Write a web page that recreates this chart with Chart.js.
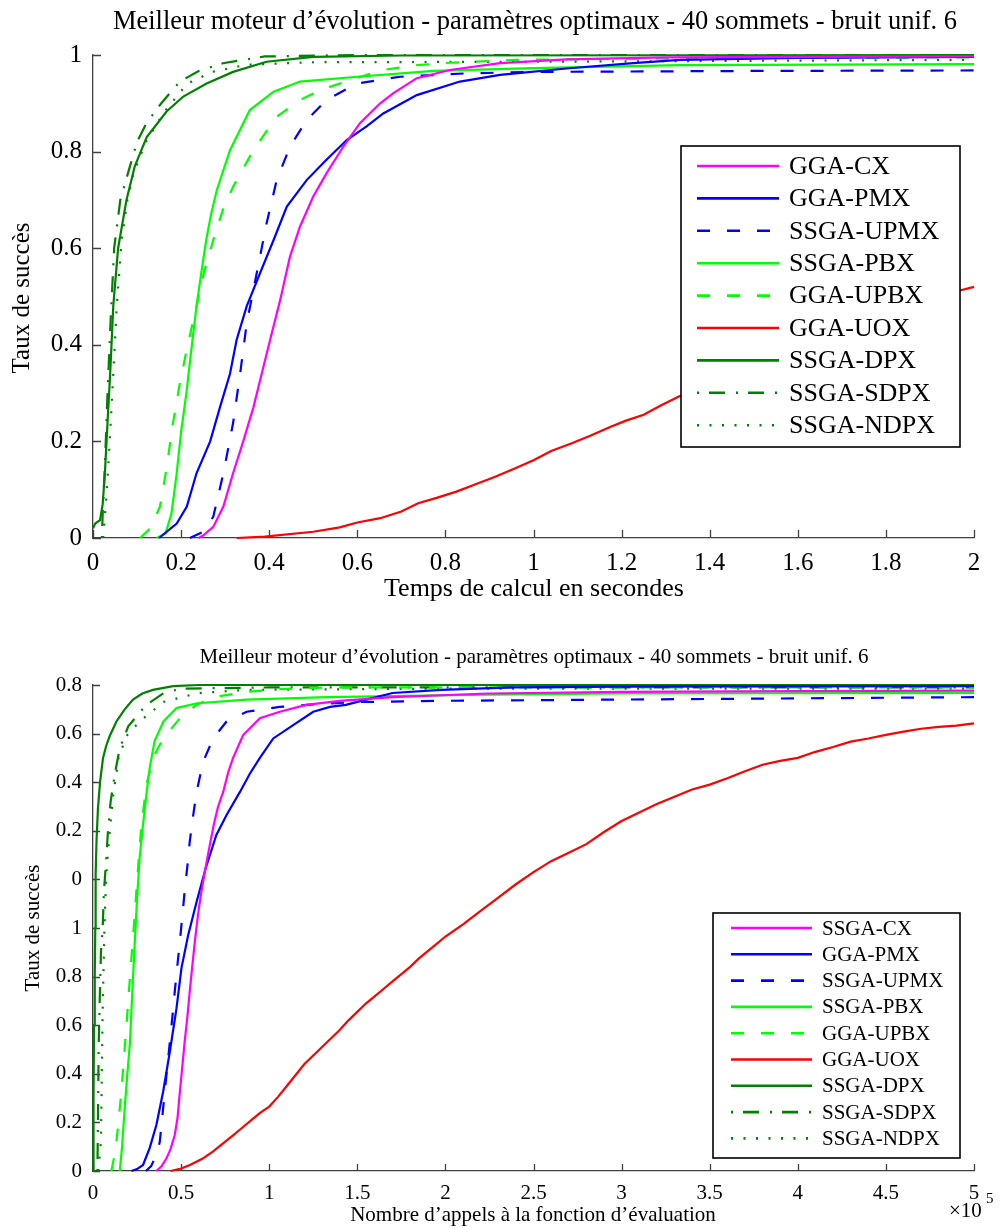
<!DOCTYPE html>
<html>
<head>
<meta charset="utf-8">
<title>Meilleur moteur d'évolution</title>
<script src="https://cdn.jsdelivr.net/npm/chart.js@4.4.1/dist/chart.umd.min.js"></script>
<style>
  html, body { margin: 0; padding: 0; background: #fff; }
  #wrap { position: relative; width: 1000px; height: 1228px; }
  canvas { position: absolute; left: 0; }
  #timeChart { top: 0; }
  #evalChart { top: 614px; }
</style>
</head>
<body>
<div id="wrap">
  <canvas id="timeChart" width="1000" height="614"></canvas>
  <canvas id="evalChart" width="1000" height="614"></canvas>
</div>
<script>
/* --------------------------------------------------------------------------
   Success rate curves: time based (top) and evaluation based (bottom)
   -------------------------------------------------------------------------- */

// --- Labels ---
const topNames = ['GGA-CX', 'GGA-PMX', 'SSGA-UPMX', 'SSGA-PBX', 'GGA-UPBX', 'GGA-UOX', 'SSGA-DPX', 'SSGA-SDPX', 'SSGA-NDPX'];
const bottomNames = ['SSGA-CX', 'GGA-PMX', 'SSGA-UPMX', 'SSGA-PBX', 'GGA-UPBX', 'GGA-UOX', 'SSGA-DPX', 'SSGA-SDPX', 'SSGA-NDPX'];

const timeTicks = ['0', '0.2', '0.4', '0.6', '0.8', '1', '1.2', '1.4', '1.6', '1.8', '2'];
const topRateTicks = ['0', '0.2', '0.4', '0.6', '0.8', '1'];
const evalTicks = ['0', '0.5', '1', '1.5', '2', '2.5', '3', '3.5', '4', '4.5', '5'];
const bottomRateTicks = ['0', '0.2', '0.4', '0.6', '0.8', '1', '0', '0.2', '0.4', '0.6', '0.8'];

// --- Top chart: [seconds, success rate] ---
const topGgaCx = [[0.24,0],[0.25,0.005],[0.273,0.023],[0.296,0.065],[0.318,0.134],[0.341,0.2],[0.364,0.27],[0.383,0.34],[0.402,0.41],[0.425,0.493],[0.447,0.582],[0.47,0.645],[0.5,0.707],[0.53,0.755],[0.568,0.81],[0.606,0.859],[0.652,0.9],[0.682,0.921],[0.735,0.952],[0.81,0.969],[0.924,0.983],[1.075,0.991],[1.3,0.995],[1.6,0.996],[2,0.997]];
const topGgaPmx = [[0.15,0],[0.19,0.03],[0.213,0.065],[0.235,0.134],[0.266,0.2],[0.288,0.27],[0.311,0.34],[0.326,0.41],[0.349,0.48],[0.379,0.548],[0.41,0.617],[0.44,0.686],[0.485,0.741],[0.53,0.783],[0.576,0.824],[0.621,0.852],[0.659,0.879],[0.735,0.917],[0.833,0.945],[0.924,0.959],[1.075,0.972],[1.226,0.983],[1.333,0.99],[1.6,0.994],[2,0.996]];
const topSsgaUpmx = [[0.22,0],[0.25,0.013],[0.273,0.044],[0.296,0.134],[0.318,0.238],[0.334,0.34],[0.349,0.445],[0.364,0.513],[0.379,0.582],[0.394,0.651],[0.417,0.741],[0.447,0.81],[0.485,0.865],[0.53,0.907],[0.599,0.941],[0.697,0.955],[0.848,0.962],[1.0,0.965],[1.5,0.967],[2,0.968]];
const topSsgaPbx = [[0.145,0],[0.165,0.01],[0.178,0.05],[0.19,0.134],[0.2,0.22],[0.212,0.3],[0.222,0.38],[0.235,0.48],[0.246,0.55],[0.257,0.617],[0.268,0.67],[0.281,0.72],[0.311,0.803],[0.356,0.886],[0.41,0.924],[0.47,0.945],[0.6,0.955],[0.773,0.967],[1.0,0.973],[1.333,0.979],[2,0.981]];
const topGgaUpbx = [[0.107,0],[0.13,0.02],[0.152,0.065],[0.168,0.15],[0.18,0.23],[0.197,0.32],[0.215,0.4],[0.235,0.48],[0.252,0.55],[0.273,0.617],[0.295,0.68],[0.318,0.727],[0.364,0.803],[0.417,0.872],[0.47,0.907],[0.515,0.927],[0.583,0.948],[0.658,0.969],[0.735,0.979],[0.81,0.984],[0.96,0.99],[1.5,0.994],[2,0.995]];
const topGgaUox = [[0.326,0],[0.39,0.003],[0.5,0.013],[0.56,0.022],[0.6,0.032],[0.652,0.041],[0.7,0.055],[0.738,0.072],[0.78,0.083],[0.825,0.096],[0.87,0.112],[0.913,0.127],[0.96,0.145],[1.0,0.161],[1.04,0.18],[1.087,0.196],[1.13,0.212],[1.174,0.23],[1.21,0.243],[1.25,0.255],[1.29,0.275],[1.33,0.293],[1.4,0.32],[1.5,0.355],[1.6,0.39],[1.7,0.43],[1.8,0.465],[1.9,0.495],[1.97,0.513],[2,0.52]];
const topSsgaDpx = [[0,0.02],[0.005,0.03],[0.016,0.037],[0.022,0.07],[0.027,0.134],[0.033,0.24],[0.039,0.34],[0.046,0.48],[0.057,0.6],[0.076,0.7],[0.095,0.77],[0.122,0.83],[0.167,0.883],[0.205,0.914],[0.258,0.941],[0.318,0.965],[0.394,0.986],[0.5,0.996],[0.7,0.999],[2,1.0]];
const topSsgaSdpx = [[0.02,0],[0.022,0.05],[0.027,0.15],[0.033,0.3],[0.04,0.45],[0.048,0.6],[0.062,0.7],[0.084,0.77],[0.1,0.82],[0.122,0.86],[0.155,0.9],[0.197,0.945],[0.24,0.967],[0.295,0.983],[0.39,0.997],[0.6,1.0],[2,1.0]];
const topSsgaNdpx = [[0.023,0],[0.03,0.08],[0.036,0.17],[0.042,0.27],[0.054,0.48],[0.065,0.617],[0.078,0.7],[0.092,0.755],[0.12,0.82],[0.16,0.88],[0.213,0.94],[0.27,0.965],[0.35,0.98],[0.5,0.985],[1.0,0.986],[1.5,0.988],[2,0.99]];

// --- Bottom chart: [evaluations x 1e5, axis position] ---
const botSsgaCx = [[0.36,0],[0.39,0.02],[0.417,0.052],[0.44,0.09],[0.464,0.148],[0.48,0.22],[0.493,0.326],[0.507,0.43],[0.52,0.53],[0.535,0.63],[0.549,0.738],[0.563,0.84],[0.578,0.944],[0.595,1.05],[0.615,1.15],[0.632,1.22],[0.652,1.3],[0.668,1.36],[0.685,1.424],[0.71,1.5],[0.739,1.56],[0.767,1.64],[0.795,1.7],[0.852,1.794],[0.947,1.863],[1.06,1.89],[1.21,1.918],[1.4,1.935],[1.7,1.95],[2.24,1.965],[3,1.972],[4,1.975],[5,1.977]];
const botGgaPmx = [[0.218,0],[0.25,0.008],[0.284,0.025],[0.322,0.095],[0.36,0.19],[0.398,0.326],[0.436,0.49],[0.474,0.67],[0.502,0.835],[0.54,0.97],[0.588,1.108],[0.64,1.247],[0.70,1.383],[0.758,1.465],[0.834,1.56],[0.89,1.635],[0.947,1.7],[1.023,1.78],[1.136,1.835],[1.25,1.89],[1.345,1.91],[1.435,1.918],[1.55,1.94],[1.7,1.967],[1.976,1.98],[2.38,1.99],[3,1.993],[5,1.995]];
const botSsgaUpmx = [[0.3,0],[0.33,0.02],[0.35,0.052],[0.365,0.08],[0.379,0.12],[0.393,0.22],[0.407,0.326],[0.422,0.43],[0.436,0.53],[0.45,0.63],[0.464,0.738],[0.478,0.84],[0.493,0.944],[0.507,1.05],[0.52,1.15],[0.535,1.25],[0.549,1.355],[0.568,1.46],[0.588,1.56],[0.625,1.684],[0.682,1.78],[0.758,1.85],[0.872,1.89],[1.06,1.91],[1.25,1.92],[1.5,1.93],[2,1.935],[3,1.94],[4,1.945],[5,1.95]];
const botSsgaPbx = [[0.152,0],[0.165,0.1],[0.18,0.26],[0.195,0.4],[0.21,0.53],[0.222,0.72],[0.237,0.94],[0.25,1.12],[0.265,1.29],[0.28,1.4],[0.294,1.49],[0.308,1.58],[0.322,1.66],[0.35,1.77],[0.4,1.85],[0.474,1.905],[0.59,1.925],[0.87,1.94],[1.33,1.95],[2.24,1.96],[3,1.965],[5,1.968]];
const botGgaUpbx = [[0.104,0],[0.118,0.05],[0.133,0.12],[0.147,0.22],[0.161,0.326],[0.175,0.46],[0.19,0.6],[0.204,0.74],[0.218,0.876],[0.232,1.01],[0.246,1.15],[0.26,1.29],[0.275,1.424],[0.303,1.588],[0.341,1.7],[0.398,1.78],[0.493,1.863],[0.588,1.918],[0.682,1.95],[0.872,1.972],[1.06,1.983],[1.345,1.99],[5,1.99]];
const botGgaUox = [[0.44,0],[0.5,0.01],[0.55,0.025],[0.62,0.05],[0.68,0.08],[0.74,0.115],[0.8,0.15],[0.85,0.18],[0.9,0.21],[0.95,0.24],[1.0,0.265],[1.05,0.305],[1.1,0.35],[1.15,0.395],[1.2,0.44],[1.25,0.475],[1.3,0.51],[1.35,0.545],[1.4,0.58],[1.45,0.62],[1.5,0.655],[1.55,0.69],[1.6,0.72],[1.65,0.75],[1.7,0.78],[1.75,0.81],[1.8,0.84],[1.85,0.875],[1.9,0.905],[1.95,0.935],[2.0,0.965],[2.1,1.015],[2.2,1.07],[2.3,1.125],[2.4,1.18],[2.5,1.23],[2.6,1.275],[2.7,1.31],[2.8,1.345],[2.9,1.395],[3.0,1.44],[3.1,1.475],[3.2,1.51],[3.3,1.54],[3.4,1.57],[3.5,1.59],[3.6,1.616],[3.7,1.645],[3.8,1.672],[3.9,1.688],[4.0,1.7],[4.1,1.725],[4.2,1.745],[4.3,1.767],[4.4,1.78],[4.5,1.795],[4.6,1.808],[4.7,1.82],[4.8,1.828],[4.9,1.833],[5.0,1.842]];
const botSsgaDpx = [[0,0],[0.003,0.3],[0.006,0.6],[0.01,0.807],[0.013,1.0],[0.015,1.22],[0.02,1.36],[0.028,1.49],[0.04,1.6],[0.057,1.7],[0.075,1.75],[0.095,1.79],[0.133,1.85],[0.18,1.9],[0.227,1.94],[0.28,1.965],[0.34,1.98],[0.455,1.995],[0.6,2.0],[5,2.0]];
const botSsgaSdpx = [[0.025,0],[0.028,0.2],[0.032,0.5],[0.038,0.7],[0.045,0.9],[0.055,1.0],[0.062,1.15],[0.072,1.25],[0.085,1.4],[0.1,1.52],[0.123,1.63],[0.152,1.74],[0.2,1.83],[0.3,1.917],[0.4,1.966],[0.5,1.985],[1,1.99],[5,1.99]];
const botSsgaNdpx = [[0.03,0],[0.045,0.12],[0.05,0.4],[0.055,0.67],[0.062,0.9],[0.068,1.08],[0.078,1.25],[0.095,1.4],[0.115,1.55],[0.145,1.7],[0.19,1.79],[0.265,1.85],[0.4,1.93],[0.59,1.966],[0.87,1.98],[2,1.985],[5,1.985]];

// --- Styles ---
const SERIF = '"Liberation Serif", "Times New Roman", serif';
const AXIS = '#404040';
const MAGENTA = '#ff00ff', BLUE = '#0000ff', LIME = '#00ff00', RED = '#ff0000', DKGREEN = '#008000';
const DASH = [13, 17], DASHDOT = [2, 10, 16, 11], DOT = [2, 10.5];
const lineColors = [MAGENTA, BLUE, BLUE, LIME, LIME, RED, DKGREEN, DKGREEN, DKGREEN];
const lineDashes = [[], [], DASH, [], DASH, [], [], DASHDOT, DOT];

function buildDatasets(names, series) {
    return series.map((pts, i) => ({
        label: names[i],
        data: pts.map(([x, y]) => ({ x, y })),
        borderColor: lineColors[i],
        borderDash: lineDashes[i],
        borderWidth: 2.2,
        pointRadius: 0,
        tension: 0,
        fill: false,
        showLine: true,
        clip: 4
    }));
}

// Inward tick marks and free text (titles, axis names)
const decorPlugin = {
    id: 'decor',
    beforeDatasetsDraw(chart, args, opts) {
        const ctx = chart.ctx;
        const { x, y } = chart.scales;
        ctx.save();
        ctx.strokeStyle = AXIS;
        ctx.lineWidth = 1.3;
        ctx.beginPath();
        x.ticks.forEach(t => {
            const px = Math.round(x.getPixelForValue(t.value)) + 0.5;
            ctx.moveTo(px, y.bottom);
            ctx.lineTo(px, y.bottom - opts.tickLen);
        });
        y.ticks.forEach(t => {
            const py = Math.round(y.getPixelForValue(t.value)) + 0.5;
            ctx.moveTo(x.left, py);
            ctx.lineTo(x.left + opts.tickLen, py);
        });
        ctx.stroke();
        ctx.restore();
    },
    afterDraw(chart, args, opts) {
        const ctx = chart.ctx;
        ctx.save();
        ctx.fillStyle = '#000';
        ctx.textBaseline = 'middle';
        (opts.texts || []).forEach(t => {
            ctx.save();
            ctx.font = t.font;
            ctx.textAlign = t.align || 'center';
            ctx.translate(t.x, t.y);
            if (t.rotate) ctx.rotate(t.rotate);
            ctx.fillText(t.text, 0, 0);
            ctx.restore();
        });
        ctx.restore();
    }
};

// Boxed legend placed inside the plot area
const boxLegendPlugin = {
    id: 'boxLegend',
    afterDraw(chart, args, o) {
        const ctx = chart.ctx;
        ctx.save();
        ctx.fillStyle = '#fff';
        ctx.fillRect(o.left, o.top, o.width, o.height);
        ctx.strokeStyle = '#000';
        ctx.lineWidth = 1.6;
        ctx.strokeRect(o.left, o.top, o.width, o.height);
        ctx.font = o.font;
        ctx.textBaseline = 'middle';
        ctx.textAlign = 'left';
        chart.data.datasets.forEach((ds, i) => {
            const cy = o.firstRow + i * o.rowHeight;
            ctx.strokeStyle = ds.borderColor;
            ctx.lineWidth = 2.6;
            ctx.setLineDash(ds.borderDash);
            ctx.beginPath();
            ctx.moveTo(o.lineX0, cy);
            ctx.lineTo(o.lineX1, cy);
            ctx.stroke();
            ctx.setLineDash([]);
            ctx.fillStyle = '#000';
            ctx.fillText(ds.label, o.textX, cy + 1);
        });
        ctx.restore();
    }
};

function axisOptions(min, max, step, labels, fontSize, pad, fit) {
    return {
        type: 'linear',
        min, max,
        ticks: {
            stepSize: step,
            autoSkip: false,
            maxRotation: 0,
            padding: pad,
            color: '#000',
            font: { family: SERIF, size: fontSize },
            callback: (v, i) => labels[i]
        },
        grid: { display: false },
        border: { display: true, color: AXIS, width: 1.3 },
        afterFit: fit
    };
}

const TITLE = 'Meilleur moteur d\u2019\u00e9volution - param\u00e8tres optimaux - 40 sommets - bruit unif. 6';

// 1. Time based success rate
new Chart(document.getElementById('timeChart'), {
    type: 'scatter',
    data: {
        datasets: buildDatasets(topNames, [topGgaCx, topGgaPmx, topSsgaUpmx, topSsgaPbx, topGgaUpbx, topGgaUox, topSsgaDpx, topSsgaSdpx, topSsgaNdpx])
    },
    options: {
        responsive: false,
        animation: false,
        devicePixelRatio: 1,
        layout: { padding: { left: 0, right: 26, top: 55, bottom: 0 } },
        plugins: {
            legend: { display: false },
            tooltip: { enabled: false },
            decor: {
                tickLen: 8,
                texts: [
                    { text: TITLE, x: 535, y: 22, font: `26.5px ${SERIF}` },
                    { text: 'Temps de calcul en secondes', x: 534, y: 589, font: `26px ${SERIF}` },
                    { text: 'Taux de succ\u00e8s', x: 22, y: 298, font: `25px ${SERIF}`, rotate: -Math.PI / 2 }
                ]
            },
            boxLegend: {
                left: 681, top: 146, width: 279, height: 301,
                firstRow: 166, rowHeight: 32.4,
                lineX0: 697, lineX1: 779, textX: 789,
                font: `26px ${SERIF}`
            }
        },
        scales: {
            x: axisOptions(0, 2, 0.2, timeTicks, 25, 2, s => { s.height = 614 - 538; }),
            y: axisOptions(0, 1, 0.2, topRateTicks, 25, 3, s => { s.width = 93; })
        }
    },
    plugins: [decorPlugin, boxLegendPlugin]
});

// 2. Evaluation count based success rate
new Chart(document.getElementById('evalChart'), {
    type: 'scatter',
    data: {
        datasets: buildDatasets(bottomNames, [botSsgaCx, botGgaPmx, botSsgaUpmx, botSsgaPbx, botGgaUpbx, botGgaUox, botSsgaDpx, botSsgaSdpx, botSsgaNdpx])
    },
    options: {
        responsive: false,
        animation: false,
        devicePixelRatio: 1,
        layout: { padding: { left: 0, right: 26, top: 71, bottom: 0 } },
        plugins: {
            legend: { display: false },
            tooltip: { enabled: false },
            decor: {
                tickLen: 7,
                texts: [
                    { text: TITLE, x: 534, y: 43, font: `21px ${SERIF}` },
                    { text: 'Nombre d\u2019appels \u00e0 la fonction d\u2019\u00e9valuation', x: 533, y: 601, font: `21px ${SERIF}` },
                    { text: 'Taux de succ\u00e8s', x: 33, y: 314, font: `21px ${SERIF}`, rotate: -Math.PI / 2 },
                    { text: '\u00d710', x: 949, y: 597, font: `21px ${SERIF}`, align: 'left' },
                    { text: '5', x: 986, y: 585, font: `15px ${SERIF}`, align: 'left' }
                ]
            },
            boxLegend: {
                left: 713, top: 299, width: 247, height: 245,
                firstRow: 314, rowHeight: 26.3,
                lineX0: 731, lineX1: 812, textX: 822,
                font: `21px ${SERIF}`
            }
        },
        scales: {
            x: axisOptions(0, 5, 0.5, evalTicks, 21, 2, s => { s.height = 614 - 557; }),
            y: axisOptions(0, 2, 0.2, bottomRateTicks, 21, 3, s => { s.width = 93; })
        }
    },
    plugins: [decorPlugin, boxLegendPlugin]
});
</script>
</body>
</html>
